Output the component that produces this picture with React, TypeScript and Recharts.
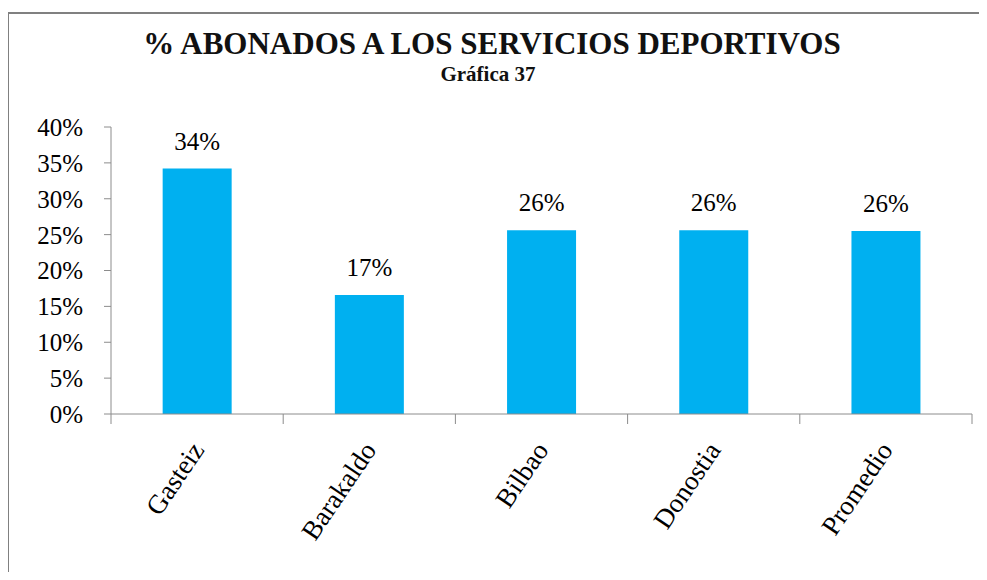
import * as React from "react";
import { BarChart, Bar, XAxis, YAxis, LabelList } from "recharts";

const cities = ["Gasteiz", "Barakaldo", "Bilbao", "Donostia", "Promedio"];
const abonados = [0.342, 0.166, 0.256, 0.256, 0.255];
const yTicks = [0, 0.05, 0.1, 0.15, 0.2, 0.25, 0.3, 0.35, 0.4];

const TITLE = "% ABONADOS A LOS SERVICIOS DEPORTIVOS";
const SUBTITLE = "Gráfica 37";

const W = 987;
const H = 580;
const MARGIN = { top: 127, right: 15, bottom: 16, left: 0 };
const Y_AXIS_W = 111;
const X_AXIS_H = 150;
const FONT = '"Liberation Serif", "DejaVu Serif", serif';
const AXIS_GRAY = "#8c8c8c";

const data = cities.map((city, i) => ({ city, value: abonados[i] }));

const pct = (v: number) => `${Math.round(v * 100)}%`;

// half of one category band, used for the between-category tick marks
const HALF_BAND = (W - MARGIN.left - MARGIN.right - Y_AXIS_W) / cities.length / 2;

function CityTick(props: any) {
  const { x, y, payload, index } = props;
  const last = index === cities.length - 1;
  return (
    <g>
      <line x1={x - HALF_BAND} y1={y} x2={x - HALF_BAND} y2={y + 10} stroke={AXIS_GRAY} />
      {last && (
        <line x1={x + HALF_BAND} y1={y} x2={x + HALF_BAND} y2={y + 10} stroke={AXIS_GRAY} />
      )}
      <text
        transform={`translate(${x + 8}, ${y + 36}) rotate(-56)`}
        textAnchor="end"
        fill="#000"
        style={{ fontFamily: FONT, fontSize: 27 }}
      >
        {payload.value}
      </text>
    </g>
  );
}

export default function App() {
  return (
    <div style={{ position: "relative", width: W, height: H, margin: -8, background: "#fff", fontFamily: FONT }}>
      <svg width={W} height={H} style={{ position: "absolute", left: 0, top: 0 }}>
        <line x1={8} y1={13} x2={W} y2={13} stroke="#808080" strokeWidth={2} />
        <line x1={8} y1={13} x2={8} y2={H} stroke="#808080" strokeWidth={2} />
        <text x={492} y={54} textAnchor="middle" fill="#111" style={{ fontFamily: FONT, fontSize: 31, fontWeight: "bold" }}>
          {TITLE}
        </text>
        <text x={488} y={81} textAnchor="middle" fill="#111" style={{ fontFamily: FONT, fontSize: 21, fontWeight: "bold" }}>
          {SUBTITLE}
        </text>
      </svg>
      <div style={{ position: "absolute", left: 0, top: 0 }}>
        <BarChart width={W} height={H} data={data} margin={MARGIN} barCategoryGap="30%" style={{ fontFamily: FONT }}>
          <XAxis
            dataKey="city"
            interval={0}
            height={X_AXIS_H}
            tickLine={false}
            tickSize={0}
            tickMargin={0}
            axisLine={{ stroke: AXIS_GRAY }}
            tick={<CityTick />}
          />
          <YAxis
            width={Y_AXIS_W}
            domain={[0, 0.4]}
            ticks={yTicks}
            interval={0}
            tickFormatter={pct}
            tickSize={7}
            tickMargin={21}
            axisLine={{ stroke: AXIS_GRAY }}
            tickLine={{ stroke: AXIS_GRAY }}
            tick={{ fontSize: 25, fill: "#000", style: { fontFamily: FONT } }}
          />
          <Bar dataKey="value" fill="#00B0F0" isAnimationActive={false}>
            <LabelList
              dataKey="value"
              position="top"
              offset={19}
              formatter={(v: any) => pct(Number(v))}
              fill="#000"
              style={{ fontFamily: FONT, fontSize: 25 }}
            />
          </Bar>
        </BarChart>
      </div>
    </div>
  );
}
